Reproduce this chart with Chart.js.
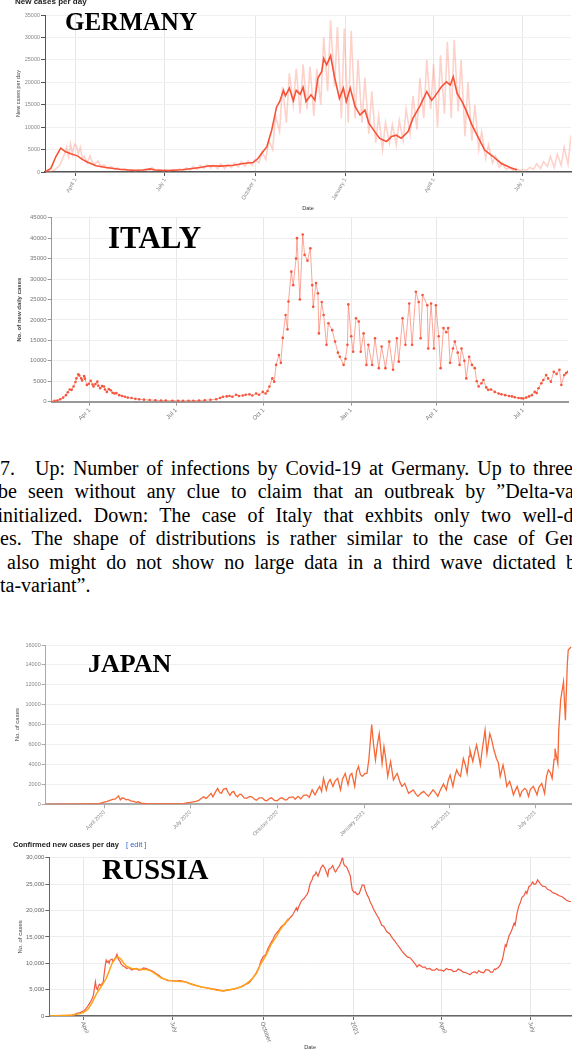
<!DOCTYPE html>
<html>
<head>
<meta charset="utf-8">
<script src="https://cdn.jsdelivr.net/npm/chart.js@4.4.0/dist/chart.umd.min.js"></script>
<style>
body { margin: 0; width: 572px; height: 1053px; overflow: hidden; background: #fff; position: relative; }
canvas { position: absolute; left: 0; }
.lbl { position: absolute; font-family: 'Liberation Serif', 'Times New Roman', serif; font-weight: bold; line-height: 1; white-space: nowrap; color: #000; }
.hdr { position: absolute; font-family: 'Liberation Sans', Arial, sans-serif; font-weight: bold; line-height: 1; white-space: nowrap; color: #222; }
.cap { position: absolute; font-family: 'Liberation Serif', 'Times New Roman', serif; font-size: 20px; line-height: 1; text-align: justify; text-align-last: justify; color: #000; }
</style>
</head>
<body>
<canvas id="de" width="572" height="213" style="top:0"></canvas>
<canvas id="it" width="572" height="215" style="top:210px"></canvas>
<canvas id="jp" width="572" height="210" style="top:633px"></canvas>
<canvas id="ru" width="572" height="203" style="top:850px"></canvas>

<div class="hdr" style="left:15px;top:-2px;font-size:8px">New cases per day</div>
<div class="lbl" style="left:65px;top:9px;font-size:25px">GERMANY</div>
<div class="lbl" style="left:108px;top:222px;font-size:31px">ITALY</div>
<div class="lbl" style="left:88px;top:651px;font-size:26px">JAPAN</div>
<div class="hdr" style="left:13px;top:841px;font-size:7.5px">Confirmed new cases per day <span style="font-weight:normal;color:#36c;margin-left:5px">[ edit ]</span></div>
<div class="lbl" style="left:102px;top:855px;font-size:29px">RUSSIA</div>

<div class="cap" style="left:0;top:457.5px;width:573px">7.&#8194;&#8194;Up: Number of infections by Covid-19 at Germany. Up to three</div>
<div class="cap" style="left:-2px;top:481px;width:576px">be seen without any clue to claim that an outbreak by ”Delta-va</div>
<div class="cap" style="left:-2.5px;top:504.5px;width:576px">initialized. Down: The case of Italy that exhbits only two well-d</div>
<div class="cap" style="left:0;top:528px;width:575px">es. The shape of distributions is rather similar to the case of Ger</div>
<div class="cap" style="left:7px;top:551.5px;width:569px">also might do not show no large data in a third wave dictated b</div>
<div class="cap" style="left:0;top:575px;text-align:left;text-align-last:left">ta-variant”.</div>

<script>
// day numbers count from 1 Jan 2020 (day 0)
const monthDays = [91, 182, 274, 366, 456, 547];

const deTickLabels = ['April 1', 'July 1', 'October 1', 'January 1', 'April 1', 'July 1'];
const itTickLabels = ['Apr 1', 'Jul 1', 'Oct 1', 'Jan 1', 'Apr 1', 'Jul 1'];
const jpTickLabels = ['April 2020', 'July 2020', 'October 2020', 'January 2021', 'April 2021', 'July 2021'];
const ruTickLabels = ['April', 'July', 'October', '2021', 'April', 'July'];

// Germany: smoothed line and daily reports
const deSmooth = [[60,0],[66,800],[71,3400],[76,5300],[81,4500],[87,4000],[93,3600],[98,2800],[104,2100],[112,1400],[122,1000],[136,600],[149,400],[160,450],[167,700],[172,450],[184,350],[200,500],[218,1000],[228,1400],[238,1300],[252,1500],[262,1900],[272,2100],[277,3000],[282,4500],[286,5600],[291,9300],[296,14500],[299,15600],[303,18200],[305,17000],[309,18700],[313,15900],[316,18200],[320,17300],[323,18900],[326,15700],[331,17200],[335,16000],[338,20900],[342,22400],[344,25300],[347,23900],[351,25900],[355,21200],[360,16400],[364,18700],[367,15700],[371,18700],[376,14600],[381,12700],[386,13800],[390,10900],[396,9000],[401,7500],[408,6800],[413,7900],[418,8200],[423,7500],[430,9000],[435,12000],[442,14700],[449,17900],[454,16000],[457,16800],[464,19000],[469,20100],[473,19400],[476,21200],[480,17500],[485,15700],[489,13800],[495,10500],[502,7500],[508,4900],[517,3400],[525,1900],[534,1000],[541,450]];
const deDaily = [[60,0],[65,100],[70,500],[75,1500],[78,3000],[80,4000],[82,5500],[84,3500],[86,6300],[88,4000],[90,6200],[92,5800],[94,4000],[96,5500],[98,3000],[100,3500],[103,2000],[106,3600],[108,2200],[111,1800],[114,2500],[117,1200],[120,1600],[124,800],[127,1300],[131,600],[134,900],[138,400],[141,700],[145,300],[148,500],[152,200],[155,500],[159,300],[162,600],[166,200],[169,1000],[173,300],[176,600],[180,200],[183,500],[187,200],[190,500],[194,300],[197,700],[201,400],[204,900],[208,500],[211,1200],[215,600],[218,1500],[222,800],[225,1600],[229,900],[232,1500],[236,700],[239,1800],[243,800],[246,1600],[250,1000],[253,2000],[257,1100],[260,2200],[264,1300],[267,2500],[271,1500],[274,2800],[278,2000],[281,4500],[285,2800],[288,7000],[292,5000],[295,12500],[299,9000],[302,19000],[306,11000],[309,22000],[313,15000],[316,23000],[320,13000],[323,24000],[327,14000],[330,23500],[334,12500],[337,23000],[341,15000],[344,30000],[348,18000],[351,33800],[355,19000],[358,32300],[362,12000],[365,32000],[369,11000],[372,31500],[376,12000],[379,25000],[383,11000],[386,21000],[390,8500],[393,18000],[397,6500],[400,12500],[404,5000],[407,11000],[411,6500],[414,10500],[418,6000],[421,11500],[425,7000],[428,14000],[432,8500],[435,17000],[439,9500],[442,21000],[446,12000],[449,25000],[453,14000],[456,24000],[460,10000],[463,26000],[467,13000],[470,29000],[474,12000],[477,29500],[481,13500],[484,25000],[488,8000],[491,20000],[495,7000],[498,15000],[502,5000],[505,9000],[509,3000],[512,6000],[516,2000],[519,3500],[523,1000],[526,2000],[530,600],[533,1000],[537,400],[540,800],[544,300],[547,600],[551,400],[554,1000],[558,600],[561,1800],[565,800],[568,2300],[572,1200],[575,3500],[579,1000],[582,4000],[586,1500],[589,5500],[593,1800],[596,8200]];

// Italy: daily new cases
const itDaily = [[51,0],[54,200],[57,300],[60,600],[63,1000],[66,1600],[68,2300],[70,3000],[72,2900],[74,3700],[76,4800],[77,5700],[79,6700],[80,6400],[82,5700],[83,5200],[85,6300],[86,5600],[88,4100],[90,4400],[92,5100],[94,4200],[95,3700],[97,4300],[99,4900],[100,3900],[102,3300],[104,3800],[106,3700],[107,3000],[109,2400],[111,3100],[113,2800],[115,2200],[117,2000],[119,2100],[122,1600],[125,1400],[128,1200],[131,1000],[135,900],[139,700],[143,600],[148,500],[154,400],[160,350],[166,300],[171,300],[178,250],[184,200],[189,200],[195,250],[200,250],[206,300],[212,350],[218,450],[224,600],[228,900],[231,1200],[235,1300],[238,1400],[241,1200],[245,1700],[248,1400],[252,1500],[255,1700],[259,1800],[262,1500],[266,2000],[269,1700],[273,2400],[276,2000],[278,2600],[280,3700],[283,5700],[285,4900],[287,9000],[290,11400],[292,9500],[294,15600],[297,21200],[299,17700],[300,24500],[303,31800],[305,28500],[308,35000],[309,40000],[312,25000],[315,40900],[317,35900],[320,34500],[323,37500],[325,28500],[326,23200],[329,29000],[331,26500],[332,16700],[335,24400],[337,21200],[340,13900],[342,19200],[346,17500],[349,14700],[352,12000],[354,11000],[358,9000],[360,10500],[362,13900],[363,23800],[366,16000],[368,12200],[371,20400],[374,19600],[376,12200],[379,16700],[382,9000],[384,13900],[388,9000],[391,15500],[395,8200],[398,13500],[402,8200],[406,14700],[410,7800],[414,15500],[416,9800],[420,20400],[423,13900],[427,24000],[430,13900],[434,26900],[437,24400],[439,15500],[441,26100],[446,23600],[447,13000],[450,24000],[453,13000],[455,23600],[458,16000],[460,8200],[463,18000],[466,17000],[468,18000],[470,9500],[473,13000],[475,14700],[478,12000],[480,9000],[482,13000],[485,10000],[487,5700],[490,11000],[493,9000],[496,8200],[498,5000],[500,3700],[503,4500],[505,5300],[508,3500],[510,2900],[513,3000],[517,2400],[521,2000],[524,1800],[528,1600],[532,1400],[535,1300],[538,1100],[542,900],[545,850],[547,800],[550,1000],[553,1300],[556,1600],[559,2400],[561,2100],[563,3300],[566,4500],[568,5300],[571,6500],[573,5700],[576,4900],[579,7300],[582,6800],[585,7800],[587,4100],[590,6500],[592,7000],[594,7300]];

// Japan: daily new cases
const jpDaily = [[29,0],[45,10],[60,20],[75,40],[85,50],[90,200],[94,300],[97,400],[100,500],[103,550],[106,850],[108,450],[110,650],[112,600],[114,450],[116,500],[119,350],[122,300],[125,200],[127,250],[130,120],[132,100],[136,60],[145,40],[155,40],[165,50],[175,60],[178,150],[182,200],[185,250],[188,300],[191,400],[194,600],[196,750],[199,600],[202,900],[204,1100],[206,750],[209,1300],[211,1600],[213,1200],[215,1100],[217,1500],[220,1600],[222,1200],[224,900],[226,1200],[228,1300],[230,900],[232,750],[234,1000],[236,1000],[239,650],[242,600],[245,800],[247,750],[250,500],[252,400],[255,650],[258,650],[261,400],[263,350],[266,600],[268,650],[271,400],[274,350],[277,600],[279,650],[282,450],[284,450],[287,700],[291,750],[293,500],[296,800],[299,550],[302,900],[305,950],[308,700],[311,1450],[314,950],[317,1500],[319,1800],[321,1300],[323,2600],[326,1450],[328,2200],[330,2500],[333,1800],[335,2300],[338,2600],[341,1450],[343,2500],[346,3100],[349,1950],[351,2900],[353,3100],[356,1800],[358,3300],[360,3800],[362,3000],[364,2800],[367,3100],[369,3100],[371,4500],[374,8000],[376,6000],[378,4450],[380,6000],[382,7100],[385,4100],[387,5800],[389,4500],[391,2800],[394,4300],[397,2450],[399,2800],[401,3100],[404,2200],[406,1800],[409,2100],[411,1600],[413,1100],[416,1300],[418,1450],[421,1000],[423,800],[426,1100],[429,1300],[432,1000],[434,800],[437,1200],[439,1450],[442,1100],[444,800],[447,1500],[450,2050],[453,1450],[455,2400],[457,2950],[460,1800],[462,2800],[464,3450],[466,3000],[468,2800],[471,4600],[473,4000],[475,3100],[477,4800],[478,5450],[481,4300],[483,5200],[485,5950],[487,5000],[489,3950],[491,5500],[494,7450],[496,5100],[499,7100],[501,6500],[503,5600],[506,4600],[508,4200],[510,2800],[513,3950],[515,3000],[517,1800],[520,2300],[522,1700],[524,950],[526,1400],[528,1800],[531,800],[533,1300],[536,1600],[538,1400],[540,800],[542,1500],[545,1800],[547,1400],[549,950],[551,1700],[554,2100],[557,1100],[559,2800],[561,3450],[563,3200],[565,2600],[567,4500],[568,5600],[571,4100],[572,7500],[574,10500],[577,12300],[579,8450],[581,14000],[582,15500],[585,15800]];

// Russia: daily cases (red) and smoothed (orange)
const ruDaily = [[56,0],[65,10],[72,30],[78,100],[82,300],[84,500],[87,600],[89,800],[91,950],[93,1300],[95,1800],[97,2400],[98,2700],[100,3400],[101,4000],[102,5200],[103,6500],[104,5300],[105,5000],[106,5600],[107,6000],[108,5800],[110,6200],[111,6400],[112,8000],[113,9500],[114,10600],[115,10200],[116,10400],[117,10000],[118,10600],[120,10800],[121,10300],[122,10500],[124,11200],[125,11700],[126,11000],[127,10600],[128,10400],[129,9900],[131,9500],[133,9300],[135,9000],[137,9200],[140,8700],[142,8900],[145,9000],[147,8700],[150,8800],[152,9100],[155,9000],[157,8800],[160,8600],[163,8300],[165,8000],[168,7700],[170,7300],[173,7000],[177,6700],[181,6700],[185,6600],[189,6700],[194,6500],[197,6300],[200,6100],[205,5800],[211,5500],[215,5400],[220,5200],[224,5100],[227,5000],[231,4800],[234,4700],[236,4900],[238,4900],[241,5000],[244,5100],[248,5300],[251,5500],[254,5700],[256,6000],[259,6200],[261,6500],[264,7300],[267,8200],[270,9300],[272,10500],[274,11200],[276,11500],[277,11800],[279,12800],[281,13500],[283,14200],[284,14500],[286,15300],[288,15800],[290,16200],[292,16800],[294,17200],[296,17300],[298,17900],[300,18200],[301,18500],[303,18900],[304,19100],[306,19800],[308,20500],[309,20000],[311,21000],[313,21800],[314,22000],[316,22300],[317,22600],[319,23100],[320,23500],[322,25100],[324,25800],[325,26500],[327,26800],[328,27300],[330,26500],[331,27000],[333,28100],[335,28600],[337,28000],[338,27500],[340,26500],[341,27800],[343,28000],[345,28500],[347,27500],[348,27300],[350,28000],[352,28500],[354,29500],[355,30200],[356,29000],[357,28500],[359,28300],[360,27900],[362,27000],[363,26500],[364,25000],[365,23900],[367,23400],[368,23500],[370,23000],[372,23200],[374,24200],[375,24800],[377,24800],[378,24000],[380,23000],[382,22300],[383,21700],[385,21000],[386,20500],[388,19800],[390,19100],[392,18500],[395,17200],[397,17000],[400,16000],[403,15600],[406,14700],[408,14300],[411,13500],[413,13000],[416,12200],[418,11800],[421,11200],[424,11000],[426,10600],[429,9900],[431,9300],[433,9700],[435,9500],[437,9200],[439,9300],[441,8900],[444,9000],[446,8700],[449,8700],[451,9000],[453,8700],[456,8700],[458,8500],[461,9000],[463,8800],[466,8800],[468,8400],[471,8500],[473,8900],[476,8600],[478,8300],[481,8200],[483,8000],[485,7800],[487,8200],[490,8400],[492,8100],[494,8600],[496,8300],[499,8200],[501,8800],[504,8700],[506,8300],[508,8300],[510,8900],[511,8800],[513,9100],[514,9200],[516,9700],[518,10700],[519,11500],[521,13500],[522,13200],[523,14000],[525,15300],[526,15600],[528,16500],[530,17600],[531,17200],[533,19500],[535,21000],[536,21300],[538,22500],[540,22800],[542,23600],[543,23200],[545,24500],[547,24800],[549,25400],[550,25000],[552,25000],[554,25800],[555,25500],[557,25000],[559,24600],[562,24500],[564,24000],[567,23800],[569,23400],[572,23200],[574,23000],[576,22800],[579,22600],[581,22300],[583,22000],[586,21700],[588,21700]];
const ruSmooth = [[56,0],[80,200],[88,500],[91,700],[95,1200],[98,2000],[101,3000],[104,4200],[108,5300],[111,6200],[114,7100],[117,8500],[120,10000],[123,10900],[126,11200],[129,10800],[132,10000],[135,9400],[140,9000],[145,8900],[150,8800],[155,8800],[160,8500],[165,7900],[170,7200],[177,6800],[185,6600],[194,6500],[200,6100],[211,5500],[220,5200],[227,4900],[234,4800],[244,5100],[251,5500],[256,6000],[261,6700],[267,8000],[272,10000],[277,11500],[282,13500],[288,15200],[292,16500],[296,17500],[300,18500]];

Chart.defaults.font.family = "'Liberation Sans', Arial, sans-serif";

const toPoints = arr => arr.map(p => ({ x: p[0], y: p[1] }));

function makeChart(id, o) {
    return new Chart(document.getElementById(id), {
        type: 'line',
        data: { datasets: o.datasets },
        options: {
            responsive: false,
            animation: false,
            devicePixelRatio: 1,
            layout: { padding: o.padding },
            plugins: { legend: { display: false }, tooltip: { enabled: false } },
            elements: { line: { tension: 0 } },
            scales: {
                x: {
                    type: 'linear',
                    min: o.xMin,
                    max: o.xMax,
                    afterBuildTicks: s => { s.ticks = monthDays.map(v => ({ value: v })); },
                    afterFit: s => { s.height = o.xHeight; },
                    ticks: {
                        display: o.xLabels !== false,
                        autoSkip: false,
                        minRotation: o.rot,
                        maxRotation: o.rot,
                        padding: 1,
                        color: o.tickColor,
                        font: { size: o.tickSize },
                        callback: (v, i) => o.tickLabels[i]
                    },
                    grid: { display: true, drawOnChartArea: o.vGrid, color: o.gridColor, tickLength: 4, tickColor: o.axisColor },
                    border: { color: o.axisColor, width: o.xAxisWidth },
                    title: o.xTitle ? { display: true, text: o.xTitle, color: '#333', font: { size: 5.5 }, padding: { top: 0, bottom: o.xTitlePad } } : { display: false }
                },
                y: {
                    min: 0,
                    max: o.yMax,
                    afterFit: s => { s.width = o.yWidth; },
                    ticks: {
                        stepSize: o.yStep,
                        padding: 1,
                        color: o.tickColor,
                        font: { size: o.tickSize },
                        callback: o.yFormat
                    },
                    grid: { color: o.hGridColor, tickLength: 4, tickColor: o.axisColor },
                    border: { color: o.axisColor, width: 1 },
                    title: { display: true, text: o.yTitle, color: '#444', font: { size: o.yTitleSize, weight: o.yTitleWeight }, padding: { top: o.yTitlePad, bottom: 0 } }
                }
            }
        },
        plugins: o.plugins || []
    });
}

const plain = v => String(v);

// Germany
makeChart('de', {
    datasets: [
        { data: toPoints(deSmooth), borderColor: 'rgb(247,82,55)', borderWidth: 1.6, pointRadius: 0 },
        { data: toPoints(deDaily), borderColor: 'rgba(250,125,105,0.35)', borderWidth: 1.6, pointRadius: 0 }
    ],
    padding: { top: 15, right: 1, bottom: 0, left: 0 },
    xMin: 60, xMax: 596, xHeight: 41, rot: 60,
    tickLabels: deTickLabels, tickColor: '#888', tickSize: 5.5,
    vGrid: true, gridColor: '#e6e6e6', hGridColor: '#f0f0f0', axisColor: '#555', xAxisWidth: 1.5,
    xTitle: 'Date', xTitlePad: 1.7,
    yMax: 35000, yStep: 5000, yWidth: 45, yFormat: plain,
    yTitle: 'New cases per day', yTitleSize: 5.5, yTitleWeight: 'normal', yTitlePad: 14.7
});

// Italy
makeChart('it', {
    datasets: [
        { data: toPoints(itDaily), borderColor: 'rgba(250,95,70,0.55)', borderWidth: 1, pointRadius: 1.3, pointBorderWidth: 0, pointBackgroundColor: 'rgb(245,85,60)' }
    ],
    padding: { top: 7.7, right: 2, bottom: 0, left: 0 },
    xMin: 51, xMax: 594, xHeight: 23.3, rot: 45,
    tickLabels: itTickLabels, tickColor: '#777', tickSize: 6,
    vGrid: true, gridColor: '#e8e8e8', hGridColor: '#eeeeee', axisColor: '#999', xAxisWidth: 2,
    yMax: 45000, yStep: 5000, yWidth: 51.7, yFormat: plain,
    yTitle: 'No. of new daily cases', yTitleSize: 6, yTitleWeight: 'bold', yTitlePad: 16
});

// Japan
makeChart('jp', {
    datasets: [
        { data: toPoints(jpDaily), borderColor: 'rgb(247,104,55)', borderWidth: 1.3, pointRadius: 0 }
    ],
    padding: { top: 12, right: 0, bottom: 0, left: 0 },
    xMin: 29, xMax: 586, xHeight: 38.7, rot: 45,
    tickLabels: jpTickLabels, tickColor: '#888', tickSize: 5.5,
    vGrid: false, gridColor: '#eeeeee', hGridColor: '#f0f0f0', axisColor: '#aaa', xAxisWidth: 2,
    yMax: 16000, yStep: 2000, yWidth: 45.7, yFormat: plain,
    yTitle: 'No. of cases', yTitleSize: 6, yTitleWeight: 'normal', yTitlePad: 13.7
});

// Russia, labels turned clockwise like the original
const ruLabelPlugin = {
    id: 'ruLabels',
    afterDraw(chart) {
        const s = chart.scales.x;
        const ctx = chart.ctx;
        ctx.save();
        ctx.font = "6px 'Liberation Sans', Arial, sans-serif";
        ctx.fillStyle = '#666';
        ctx.textAlign = 'left';
        ctx.textBaseline = 'middle';
        s.ticks.forEach((t, i) => {
            ctx.save();
            ctx.translate(s.getPixelForValue(t.value) - 1, s.top + 6);
            ctx.rotate(70 * Math.PI / 180);
            ctx.fillText(ruTickLabels[i], 0, 0);
            ctx.restore();
        });
        ctx.restore();
    }
};

makeChart('ru', {
    datasets: [
        { data: toPoints(ruSmooth), borderColor: 'rgb(255,163,26)', borderWidth: 1.5, pointRadius: 0 },
        { data: toPoints(ruDaily), borderColor: 'rgb(242,88,64)', borderWidth: 1.2, pointRadius: 0 }
    ],
    padding: { top: 7.7, right: 1, bottom: 0, left: 0 },
    xMin: 56, xMax: 588, xHeight: 37, rot: 0, xLabels: false,
    tickLabels: ruTickLabels, tickColor: '#666', tickSize: 6,
    vGrid: true, gridColor: '#e6e6e6', hGridColor: '#ececec', axisColor: '#666', xAxisWidth: 1.5,
    xTitle: 'Date', xTitlePad: 2.4,
    yMax: 30000, yStep: 5000, yWidth: 49.3, yFormat: v => v.toLocaleString('en-US'),
    yTitle: 'No. of cases', yTitleSize: 6, yTitleWeight: 'normal', yTitlePad: 16.7,
    plugins: [ruLabelPlugin]
});
</script>
</body>
</html>
